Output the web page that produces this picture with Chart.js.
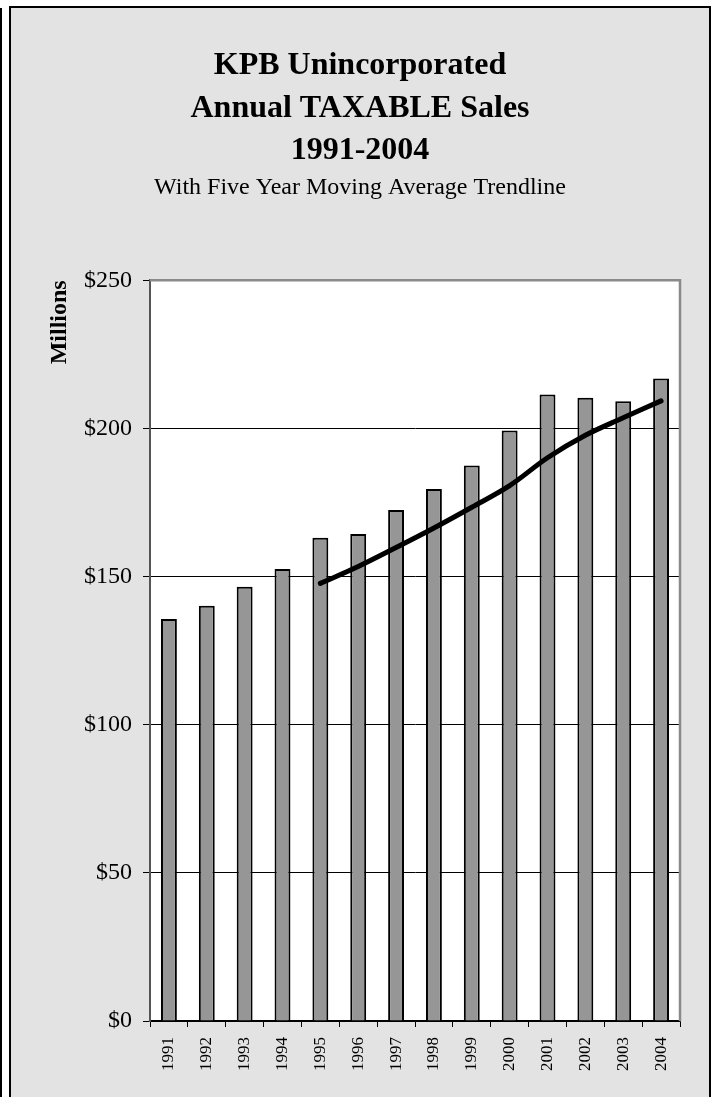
<!DOCTYPE html>
<html>
<head>
<meta charset="utf-8">
<script src="https://cdn.jsdelivr.net/npm/chart.js@4.4.1/dist/chart.umd.min.js"></script>
<style>
  html, body { margin: 0; padding: 0; background: #ffffff; }
  body { width: 713px; height: 1097px; position: relative; overflow: hidden; }
  #leftline { position: absolute; left: 0; top: 8px; width: 2px; height: 1089px; background: #000; }
  #box { position: absolute; left: 9px; top: 6px; width: 698px; height: 1091px;
         border-left: 2px solid #000; border-top: 2px solid #000; border-right: 2px solid #000;
         background: #e3e3e3; }
  canvas { display: block; }
</style>
</head>
<body>
<div id="leftline"></div>
<div id="box"><canvas id="c" width="698" height="1089"></canvas></div>
<script>
const years = ['1991','1992','1993','1994','1995','1996','1997','1998','1999','2000','2001','2002','2003','2004'];
const sales = [135.7, 140.2, 146.6, 152.6, 163.1, 164.4, 172.5, 179.6, 187.5, 199.3, 211.5, 210.4, 209.2, 216.9];
const movingAvg = [null, null, null, null, 147.7, 153.4, 159.8, 166.4, 173.4, 180.7, 190.1, 197.7, 203.6, 209.3];
const titleLines = ['KPB Unincorporated', 'Annual TAXABLE Sales', '1991-2004'];
const subtitleText = 'With Five Year Moving Average Trendline';
const yTicks = { min: 0, max: 250, step: 50 };

const SERIF = "'Liberation Serif', 'Times New Roman', serif";

const plotDecor = {
  id: 'plotDecor',
  beforeDraw(chart) {
    const a = chart.chartArea, ctx = chart.ctx;
    ctx.save();
    ctx.fillStyle = '#ffffff';
    ctx.fillRect(a.left, a.top, a.right - a.left, a.bottom - a.top);
    ctx.restore();
  },
  beforeDatasetsDraw(chart) {
    const a = chart.chartArea, ctx = chart.ctx;
    ctx.save();
    ctx.strokeStyle = '#8a8a8a';
    ctx.lineWidth = 2.5;
    ctx.beginPath();
    ctx.moveTo(a.left, a.top);
    ctx.lineTo(a.right, a.top);
    ctx.lineTo(a.right, a.bottom);
    ctx.stroke();
    ctx.restore();
  }
};

new Chart(document.getElementById('c'), {
  type: 'bar',
  data: {
    labels: years,
    datasets: [
      {
        type: 'bar',
        label: 'Taxable Sales',
        data: sales,
        backgroundColor: '#969696',
        borderColor: '#000000',
        borderWidth: 2,
        barPercentage: 0.42,
        categoryPercentage: 1.0,
        order: 2
      },
      {
        type: 'line',
        label: '5 Per. Mov. Avg.',
        data: movingAvg,
        borderColor: '#000000',
        borderWidth: 5,
        pointRadius: 0,
        tension: 0.35,
        borderCapStyle: 'round',
        borderJoinStyle: 'round',
        fill: false,
        spanGaps: false,
        order: 1
      }
    ]
  },
  options: {
    responsive: false,
    animation: false,
    events: [],
    layout: { padding: { left: 29, right: 29, top: 0, bottom: 0 } },
    plugins: {
      legend: { display: false },
      tooltip: { enabled: false },
      title: {
        display: true,
        text: titleLines,
        color: '#000',
        font: { family: SERIF, size: 32, weight: 'bold', lineHeight: 1.32 },
        padding: { top: 37, bottom: 0 }
      },
      subtitle: {
        display: true,
        text: subtitleText,
        color: '#000',
        font: { family: SERIF, size: 24, weight: 'normal', lineHeight: 1.2 },
        padding: { top: 2, bottom: 77.8 }
      }
    },
    scales: {
      x: {
        offset: true,
        grid: { display: true, offset: true, drawOnChartArea: false, drawTicks: true, tickLength: 6, color: '#000', lineWidth: 1 },
        border: { display: true, color: '#000', width: 1.5 },
        ticks: { color: '#000', font: { family: SERIF, size: 17 }, minRotation: 90, maxRotation: 90, padding: 10, autoSkip: false },
        afterFit(scale) { scale.height = 76; }
      },
      y: {
        min: yTicks.min,
        max: yTicks.max,
        grid: { display: true, color: '#000', lineWidth: 1, drawTicks: true, tickLength: 7 },
        border: { display: true, color: '#555555', width: 2 },
        ticks: { stepSize: yTicks.step, color: '#000', font: { family: SERIF, size: 24 }, padding: 11,
                 callback: (v) => '$' + v },
        title: { display: true, text: 'Millions', align: 'end', color: '#000',
                 font: { family: SERIF, size: 24, weight: 'bold', lineHeight: 1.2 },
                 padding: { top: 5.6, bottom: 0 } },
        afterFit(scale) { scale.width = 110; }
      }
    }
  },
  plugins: [plotDecor]
});
</script>
</body>
</html>
